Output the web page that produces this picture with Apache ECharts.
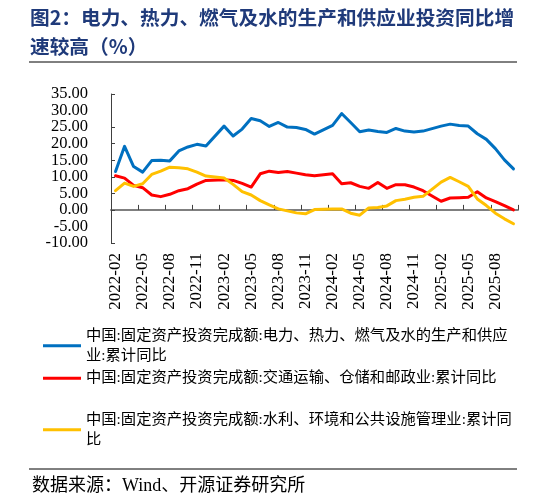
<!DOCTYPE html>
<html>
<head>
<meta charset="utf-8">
<title>图2</title>
<script src="https://cdn.jsdelivr.net/npm/echarts/dist/echarts.min.js"></script>
<style>
    html, body { margin: 0; padding: 0; background: #fff; }
    #chart-1 { width: 546px; height: 499px; }
</style>
</head>
<body>
<div id="chart-1"></div>
<script>
"use strict";

// months (January has no cumulative data, kept as a gap)
var months = [
    "2022-02", "2022-03", "2022-04", "2022-05", "2022-06", "2022-07", "2022-08", "2022-09", "2022-10", "2022-11", "2022-12",
    "2023-01", "2023-02", "2023-03", "2023-04", "2023-05", "2023-06", "2023-07", "2023-08", "2023-09", "2023-10", "2023-11", "2023-12",
    "2024-01", "2024-02", "2024-03", "2024-04", "2024-05", "2024-06", "2024-07", "2024-08", "2024-09", "2024-10", "2024-11", "2024-12",
    "2025-01", "2025-02", "2025-03", "2025-04", "2025-05", "2025-06", "2025-07", "2025-08", "2025-09", "2025-10"
];

var seriesNames = [
    "中国:固定资产投资完成额:电力、热力、燃气及水的生产和供应业:累计同比",
    "中国:固定资产投资完成额:交通运输、仓储和邮政业:累计同比",
    "中国:固定资产投资完成额:水利、环境和公共设施管理业:累计同比"
];

// legend text as wrapped in the source
var legendLabels = [
    "中国:固定资产投资完成额:电力、热力、燃气及水的生产和供应\n业:累计同比",
    "中国:固定资产投资完成额:交通运输、仓储和邮政业:累计同比",
    "中国:固定资产投资完成额:水利、环境和公共设施管理业:累计同\n比"
];

var power = [
    11.6, 19.2, 13.1, 11.4, 14.9, 15.0, 14.8, 17.8, 19.0, 19.8, 19.3,
    null, 25.3, 22.3, 24.4, 27.6, 26.9, 25.2, 26.4, 25.0, 24.9, 24.3, 22.9,
    null, 25.5, 29.1, 26.4, 23.6, 24.1, 23.7, 23.4, 24.6, 23.8, 23.5, 23.8,
    null, 25.3, 25.9, 25.5, 25.3, 23.0, 21.3, 18.5, 15.1, 12.4
];

var transport = [
    10.3, 9.6, 7.4, 6.7, 4.5, 4.0, 4.7, 5.8, 6.4, 7.8, 8.9,
    null, 9.1, 8.9, 8.0, 6.9, 10.9, 11.7, 11.3, 11.6, 11.1, 10.6, 10.3,
    null, 10.9, 7.9, 8.2, 7.1, 6.5, 8.3, 6.5, 7.6, 7.6, 6.9, 5.8,
    null, 2.6, 3.6, 3.7, 3.8, 5.5, 3.6, 2.5, 1.3, 0.0
];

var water = [
    5.8, 8.1, 7.1, 7.9, 10.7, 11.7, 12.9, 12.7, 12.4, 11.4, 10.2,
    null, 9.6, 7.7, 5.5, 4.5, 2.8, 1.5, 0.3, -0.3, -0.9, -1.2, 0.1,
    null, 0.3, 0.3, -1.0, -1.6, 0.6, 0.7, 1.2, 2.8, 3.2, 3.8, 4.1,
    null, 8.4, 9.8, 8.5, 7.1, 3.3, 1.3, -1.0, -2.7, -4.2
];

var colors = ["#0070C0", "#FF0000", "#FFC000"];
var seriesData = [power, transport, water];

(function (echarts) {
    var chart_1 = echarts.init(document.querySelector("#chart-1"));

    var serifCn = "'Liberation Serif', 'Noto Sans CJK SC'";

    // one legend per item so each can sit on its own row
    var legendTops = [315, 368, 399];
    var legends = seriesNames.map(function (name, i) {
        var twoLines = legendLabels[i].indexOf("\n") >= 0;
        return {
            data: [{ name: name, icon: "rect" }],
            left: 43,
            top: legendTops[i],
            padding: 0,
            itemWidth: 38,
            itemHeight: 3,
            selectedMode: false,
            formatter: function () { return legendLabels[i]; },
            textStyle: {
                fontFamily: serifCn,
                fontSize: 15.3,
                lineHeight: 20.5,
                color: "#000",
                padding: twoLines ? [20.5, 0, 0, 0] : 0
            }
        };
    });

    var yLabelStyle = {
        margin: 23,
        fontFamily: "'Liberation Serif'",
        fontSize: 16.5,
        color: "#000"
    };

    var option = {
        animation: false,
        backgroundColor: "#fff",
        title: [
            {
                text: "图2：电力、热力、燃气及水的生产和供应业投资同比增\n速较高（%）",
                left: 30,
                top: 3,
                padding: 0,
                textStyle: {
                    fontFamily: "'Noto Sans CJK SC'",
                    fontSize: 19.7,
                    fontWeight: "bold",
                    lineHeight: 29,
                    color: "#1f3a7a"
                }
            },
            {
                text: "数据来源：Wind、开源证券研究所",
                left: 32,
                top: 477,
                padding: 0,
                textStyle: {
                    fontFamily: serifCn,
                    fontSize: 18,
                    fontWeight: "normal",
                    color: "#000"
                }
            }
        ],
        graphic: [
            { type: "line", shape: { x1: 29, y1: 62, x2: 517, y2: 62 }, style: { stroke: "#000", lineWidth: 1 } },
            { type: "line", shape: { x1: 29, y1: 469, x2: 517, y2: 469 }, style: { stroke: "#000", lineWidth: 1 } }
        ],
        legend: legends,
        grid: {
            left: 111,
            right: 28,
            top: 94,
            bottom: 256
        },
        xAxis: [
            {
                // labels at the bottom
                type: "category",
                position: "bottom",
                data: months,
                boundaryGap: true,
                axisLine: { show: false, onZero: false },
                axisTick: { show: false },
                axisLabel: {
                    interval: 2,
                    rotate: 90,
                    margin: 10,
                    fontFamily: "'Liberation Serif'",
                    fontSize: 17,
                    color: "#000"
                }
            },
            {
                // zero line with its ticks
                type: "category",
                position: "top",
                data: months,
                boundaryGap: true,
                axisLine: { show: true, onZero: true, lineStyle: { color: "#7f7f7f", width: 2 } },
                axisTick: { show: true, inside: false, interval: 2, length: 5, lineStyle: { color: "#404040", width: 1 } },
                axisLabel: { show: false }
            }
        ],
        yAxis: [
            {
                type: "value",
                position: "left",
                min: -10,
                max: 35,
                interval: 5,
                splitLine: { show: false },
                axisLine: { show: true, lineStyle: { color: "#404040", width: 1 } },
                axisTick: { show: true, inside: true, length: 4, lineStyle: { color: "#404040" } },
                axisLabel: Object.assign({
                    showMinLabel: true,
                    showMaxLabel: true,
                    formatter: function (v) { return v.toFixed(2); }
                }, yLabelStyle)
            },
            {
                // same scale, only fills in the labels next to min / max
                type: "value",
                position: "left",
                min: -10,
                max: 35,
                interval: 5,
                splitLine: { show: false },
                axisLine: { show: false },
                axisTick: { show: false },
                axisLabel: Object.assign({
                    showMinLabel: false,
                    showMaxLabel: false,
                    formatter: function (v) { return (v === 30 || v === -5) ? v.toFixed(2) : ""; }
                }, yLabelStyle)
            }
        ],
        series: seriesNames.map(function (name, i) {
            return {
                name: name,
                type: "line",
                xAxisIndex: 0,
                yAxisIndex: 0,
                data: seriesData[i],
                connectNulls: true,
                symbol: "none",
                color: colors[i],
                lineStyle: { width: 3, color: colors[i], cap: "round", join: "round" }
            };
        })
    };

    chart_1.setOption(option);
}(echarts));
</script>
</body>
</html>
